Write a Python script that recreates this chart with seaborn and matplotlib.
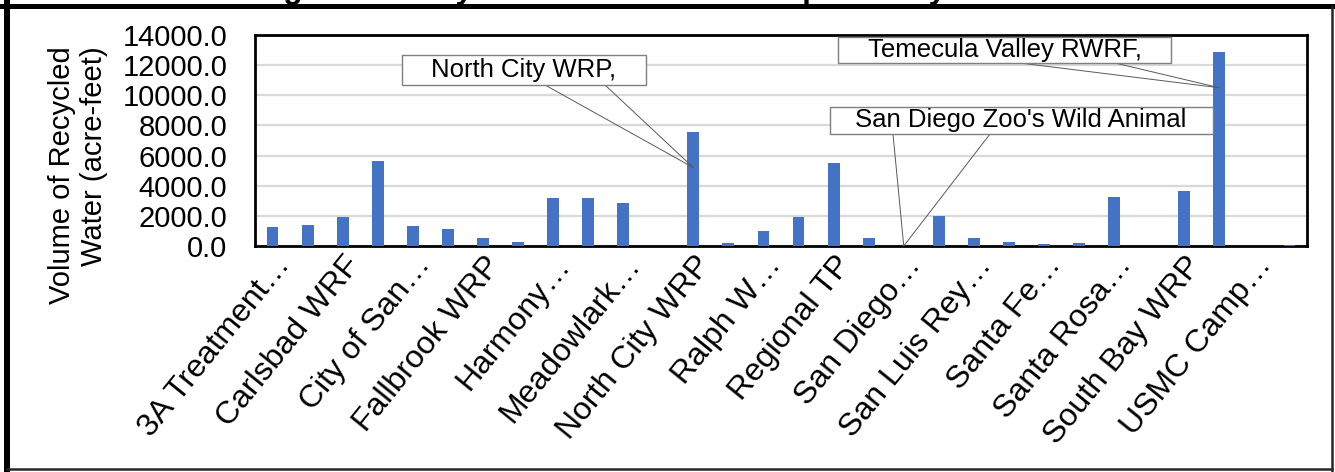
import matplotlib
matplotlib.use("Agg")
import matplotlib.pyplot as plt
from matplotlib.lines import Line2D
from matplotlib.patches import Rectangle
import matplotlib.transforms as mtransforms
import seaborn as sns
import pandas as pd
import numpy as np

# ---------------- data ----------------
facilities = [
    "3A Treatment Plant", "4S Ranch WRF", "Carlsbad WRF", "City of Escondido HARRF",
    "City of San Marcos", "Encina WPCF", "Fallbrook WRP", "Gafner WRP",
    "Harmony Grove WRF", "Lake Hodges WRF", "Meadowlark WRF", "Mission Hills WRF",
    "North City WRP", "Olivenhain WRF", "Ralph W. Chapman WRF", "Ramona WRF",
    "Regional TP", "Rincon WRF", "San Diego Zoo's Wild Animal Park", "San Elijo WRF",
    "San Luis Rey WRF", "San Pasqual WRF", "Santa Fe Valley WRF", "Santa Maria WRF",
    "Santa Rosa WRF", "Shadowridge WRP", "South Bay WRP", "Temecula Valley RWRF",
    "USMC Camp Pendleton", "Valley Center WRF",
]
volumes = [
    1270, 1380, 1950, 5650,
    1310, 1160, 560, 270,
    3180, 3180, 2840, 0,
    7560, 220, 1020, 1910,
    5510, 530, 0, 1980,
    530, 270, 160, 180,
    3240, 0, 3620, 12890,
    0, 50,
]
tick_labels = [
    "3A Treatment\u2026", "Carlsbad WRF", "City of San\u2026", "Fallbrook WRP",
    "Harmony\u2026", "Meadowlark\u2026", "North City WRP", "Ralph W\u2026",
    "Regional TP", "San Diego\u2026", "San Luis Rey\u2026", "Santa Fe\u2026",
    "Santa Rosa\u2026", "South Bay WRP", "USMC Camp\u2026",
]
y_ticks = [0, 2000, 4000, 6000, 8000, 10000, 12000, 14000]
title = "Figure 4: Recycled Water Volume Reported by Source"
y_label = "Volume of Recycled\nWater (acre-feet)"

callout_texts = ["North City WRP,", "Temecula Valley RWRF,", "San Diego Zoo's Wild Animal"]
callout_targets = [(12, 5200), (27, 10500), (18, 0)]

# ---------------- style ----------------
sns.set_style("white")
plt.rcParams["font.family"] = ["Liberation Sans", "DejaVu Sans"]
plt.rcParams["text.color"] = "black"
plt.rcParams["axes.labelcolor"] = "black"
plt.rcParams["xtick.color"] = "black"
plt.rcParams["ytick.color"] = "black"

W, H = 1335, 472
fig = plt.figure(figsize=(W / 100, H / 100), dpi=100)
ax_l, ax_r, ax_t, ax_b = 255, 1307, 35, 246
ax = fig.add_axes([ax_l / W, 1 - ax_b / H, (ax_r - ax_l) / W, (ax_b - ax_t) / H])

df = pd.DataFrame({"facility": facilities, "volume": volumes})
sns.barplot(data=df, x="facility", y="volume", color="#4472C4", saturation=1,
            width=0.34, ax=ax, zorder=3, linewidth=0)

ax.set_ylim(0, 14000)
ax.set_yticks(y_ticks)
ax.set_yticklabels([f"{v:.1f}" for v in y_ticks], fontsize=21)
ax.yaxis.grid(True, color="#d9d9d9", linewidth=1.6, zorder=0)
ax.xaxis.grid(False)
ax.set_axisbelow(True)
ax.tick_params(axis="x", length=0, pad=3)
ax.tick_params(axis="y", length=0, pad=20)

ax.set_xticks(range(0, len(facilities), 2))
ax.set_xticklabels(tick_labels, rotation=51, ha="right", va="center",
                   rotation_mode="anchor", fontsize=23)
offset = mtransforms.ScaledTranslation(12 / 100, -10 / 100, fig.dpi_scale_trans)
for lab in ax.get_xticklabels():
    lab.set_transform(lab.get_transform() + offset)

ax.set_xlabel("")
ax.set_ylabel(y_label, fontsize=21, multialignment="right")
ax.yaxis.set_label_coords((108 - ax_l) / (ax_r - ax_l), 1 - (175 - ax_t) / (ax_b - ax_t))

for s in ax.spines.values():
    s.set_visible(True)
    s.set_color("black")
    s.set_linewidth(2)

# ---------------- callouts ----------------
def fx(x):
    return (x - ax_l) / (ax_r - ax_l)

def fy(y):
    return 1 - (y - ax_t) / (ax_b - ax_t)

boxes = [
    dict(box=(402, 55, 646, 85), text=(524, 70), starts=[(545, 85), (605, 85)]),
    dict(box=(838, 37, 1171, 63), text=(1005, 50), starts=[(1020, 63), (1115, 63)]),
    dict(box=(830, 107, 1213, 134), text=(1021, 120), starts=[(893, 134), (990, 134)]),
]
for txt, tgt, b in zip(callout_texts, callout_targets, boxes):
    x0, y0, x1, y1 = b["box"]
    ax.add_patch(Rectangle((fx(x0), fy(y1)), fx(x1) - fx(x0), fy(y0) - fy(y1),
                           transform=ax.transAxes, facecolor="white",
                           edgecolor="#7f7f7f", linewidth=1.0, zorder=5, clip_on=False))
    ax.text(fx(b["text"][0]), fy(b["text"][1]), txt, transform=ax.transAxes,
            ha="center", va="center", fontsize=18.5, zorder=6)
    for sx, sy in b["starts"]:
        ax.annotate("", xy=tgt, xycoords="data", xytext=(fx(sx), fy(sy)),
                    textcoords="axes fraction",
                    arrowprops=dict(arrowstyle="-", color="#595959", lw=0.7,
                                    shrinkA=0, shrinkB=0),
                    zorder=4, annotation_clip=False)

# ---------------- title (cropped at the top, as in the source) and outer frame ----------------
fig.text(255 / W, 1 + 2 / H, title, ha="left", va="baseline",
         fontsize=22.8, fontweight="bold")

def px2pt(p):
    return p * 72 / 100

fig.add_artist(Line2D([7 / W, 7 / W], [0.0, 1.0], transform=fig.transFigure,
                      color="black", linewidth=px2pt(6), zorder=10))
fig.add_artist(Line2D([0.0, 1.0], [1 - 5.5 / H, 1 - 5.5 / H], transform=fig.transFigure,
                      color="black", linewidth=px2pt(5), zorder=10))
fig.add_artist(Line2D([1331.5 / W, 1331.5 / W], [0.0, 1 - 5.5 / H], transform=fig.transFigure,
                      color="#262626", linewidth=px2pt(2.5), zorder=10))
fig.add_artist(Line2D([7 / W, 1331.5 / W], [1 - 468.5 / H, 1 - 468.5 / H],
                      transform=fig.transFigure,
                      color="#262626", linewidth=px2pt(2.5), zorder=10))

fig.savefig("out.png", dpi=100, facecolor="white")
